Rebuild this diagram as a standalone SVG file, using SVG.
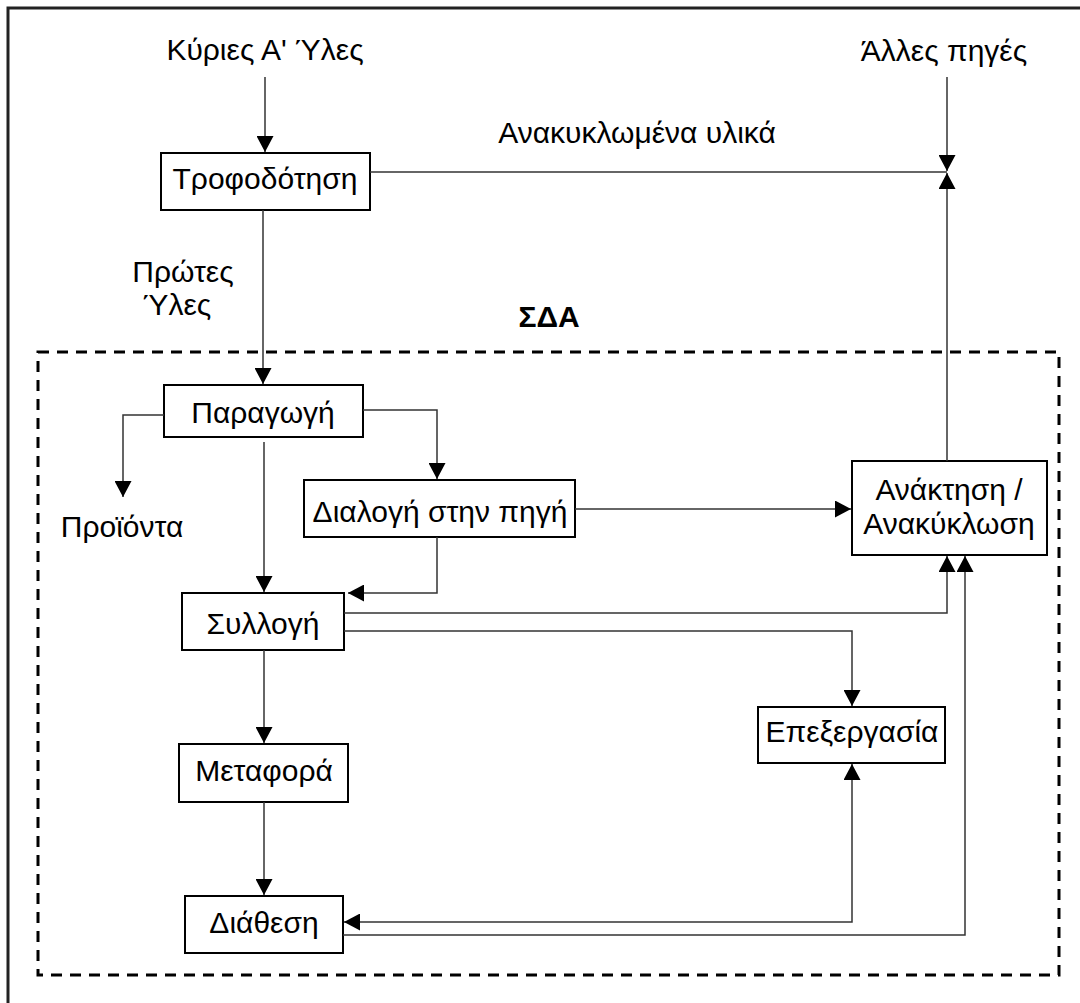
<svg xmlns="http://www.w3.org/2000/svg" width="1080" height="1003" viewBox="0 0 1080 1003">
  <style>
    .box { fill: #fff; stroke: #000; stroke-width: 2; }
    .lbl { font-family: "Liberation Sans", Arial, sans-serif; font-size: 30px; fill: #000; text-anchor: middle; }
    .bold { font-weight: bold; }
    .edge { fill: none; stroke: #333; stroke-width: 1.5; }
    .frame { fill: none; stroke: #222; stroke-width: 3; }
    .zone { fill: none; stroke: #000; stroke-width: 3; stroke-dasharray: 11 8; }
  </style>
  <defs>
    <marker id="arrow" markerUnits="userSpaceOnUse" markerWidth="17" markerHeight="17" refX="16" refY="8.5" orient="auto-start-reverse" viewBox="0 0 17 17">
      <path d="M0,0 L16,8.5 L0,17 Z" fill="#000"/>
    </marker>
  </defs>

  <rect width="1080" height="1003" fill="#fff"/>

  <!-- page frame (only top and left edges fall inside the page) -->
  <path class="frame" d="M8,1010 V8 H1090"/>

  <!-- solid waste management zone -->
  <g id="zone-sda">
    <rect class="zone" x="38" y="352" width="1021" height="623"/>
    <text class="lbl bold" x="549" y="327">ΣΔΑ</text>
  </g>

  <!-- free-standing labels -->
  <g id="src-primary"><text class="lbl" x="265" y="60">Κύριες Α' Ύλες</text></g>
  <g id="src-other"><text class="lbl" x="944" y="61">Άλλες πηγές</text></g>
  <g id="lbl-recycled"><text class="lbl" x="637" y="143">Ανακυκλωμένα υλικά</text></g>
  <g id="lbl-raw">
    <text class="lbl" x="183" y="282">Πρώτες</text>
    <text class="lbl" x="177" y="315">Ύλες</text>
  </g>
  <g id="out-products"><text class="lbl" x="122" y="537">Προϊόντα</text></g>

  <!-- process nodes -->
  <g id="n-feed">
    <rect class="box" x="161" y="153" width="209" height="57"/>
    <text class="lbl" x="265" y="189">Τροφοδότηση</text>
  </g>
  <g id="n-production">
    <rect class="box" x="164" y="385" width="199" height="52"/>
    <text class="lbl" x="263" y="423">Παραγωγή</text>
  </g>
  <g id="n-sorting">
    <rect class="box" x="304" y="480" width="271" height="57"/>
    <text class="lbl" x="440" y="522">Διαλογή στην πηγή</text>
  </g>
  <g id="n-recovery">
    <rect class="box" x="852" y="461" width="195" height="94"/>
    <text class="lbl" x="949" y="500">Ανάκτηση /</text>
    <text class="lbl" x="949" y="534">Ανακύκλωση</text>
  </g>
  <g id="n-collection">
    <rect class="box" x="182" y="593" width="162" height="57"/>
    <text class="lbl" x="263" y="634">Συλλογή</text>
  </g>
  <g id="n-processing">
    <rect class="box" x="758" y="707" width="187" height="56"/>
    <text class="lbl" x="852" y="742">Επεξεργασία</text>
  </g>
  <g id="n-transport">
    <rect class="box" x="179" y="744" width="169" height="58"/>
    <text class="lbl" x="264" y="781">Μεταφορά</text>
  </g>
  <g id="n-disposal">
    <rect class="box" x="185" y="896" width="158" height="57"/>
    <text class="lbl" x="264" y="933">Διάθεση</text>
  </g>

  <!-- connectors -->
  <g id="connectors">
    <path class="edge" d="M265,77 V152" marker-end="url(#arrow)"/>
    <path class="edge" d="M947,77 V171" marker-end="url(#arrow)"/>
    <path class="edge" d="M370,172 H947"/>
    <path class="edge" d="M947,461 V173" marker-end="url(#arrow)"/>
    <path class="edge" d="M263,210 V384" marker-end="url(#arrow)"/>
    <path class="edge" d="M164,415 H123 V497" marker-end="url(#arrow)"/>
    <path class="edge" d="M363,410 H437 V479" marker-end="url(#arrow)"/>
    <path class="edge" d="M575,509 H851" marker-end="url(#arrow)"/>
    <path class="edge" d="M264,442 V592" marker-end="url(#arrow)"/>
    <path class="edge" d="M437,537 V593 H348" marker-end="url(#arrow)"/>
    <path class="edge" d="M344,613 H947 V556" marker-end="url(#arrow)"/>
    <path class="edge" d="M344,631 H852 V706" marker-end="url(#arrow)"/>
    <path class="edge" d="M264,650 V743" marker-end="url(#arrow)"/>
    <path class="edge" d="M264,802 V895" marker-end="url(#arrow)"/>
    <path class="edge" d="M344,922 H852 V764" marker-start="url(#arrow)" marker-end="url(#arrow)"/>
    <path class="edge" d="M343,935 H965 V556" marker-end="url(#arrow)"/>
  </g>
</svg>
